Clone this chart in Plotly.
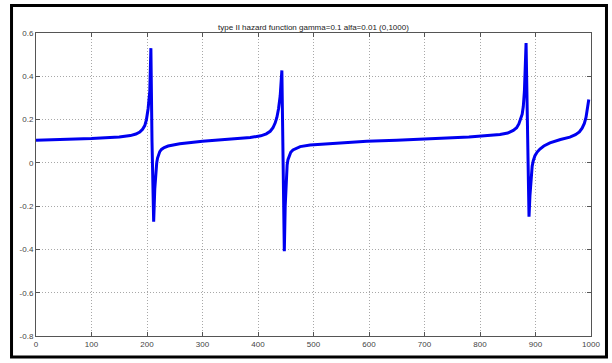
import plotly.graph_objects as go

# data
x_vals = [0, 50, 100, 150, 170, 180, 187, 192, 196, 199, 202, 205, 207, 209, 211, 212, 214, 216, 217.5, 219, 221, 223, 226, 231, 238, 248, 259,
          300, 350, 386, 405, 415, 422, 427, 431, 434, 437, 440, 443, 445, 447.4, 449, 451, 452.5, 454, 456, 459, 463, 468, 476, 494,
          550, 596, 650, 716, 780, 836, 850, 860, 866, 870, 873, 876, 878, 880, 883, 885, 888.3, 890, 892, 894, 896, 899, 903, 908,
          915, 926, 945, 962, 972, 979, 984, 988, 991, 994, 996]
y_vals = [0.105, 0.108, 0.112, 0.119, 0.126, 0.133, 0.142, 0.155, 0.172, 0.2, 0.25, 0.33, 0.53, 0.1, -0.1, -0.272, -0.12, -0.04, 0.0, 0.022, 0.04, 0.052, 0.062, 0.071, 0.078, 0.084, 0.088,
          0.1, 0.11, 0.117, 0.125, 0.134, 0.146, 0.162, 0.185, 0.21, 0.25, 0.31, 0.427, 0.1, -0.408, -0.2, -0.06, -0.01, 0.015, 0.033, 0.049, 0.06, 0.067, 0.075, 0.082,
          0.093, 0.1, 0.105, 0.111, 0.119, 0.131, 0.138, 0.15, 0.162, 0.18, 0.2, 0.225, 0.26, 0.33, 0.554, 0.15, -0.249, -0.15, -0.06, -0.015, 0.01, 0.033, 0.05, 0.064,
          0.078, 0.092, 0.108, 0.119, 0.13, 0.143, 0.16, 0.182, 0.21, 0.25, 0.293]

x_ticks = [0, 100, 200, 300, 400, 500, 600, 700, 800, 900, 1000]
x_tick_labels = ["0", "100", "200", "300", "400", "500", "600", "700", "800", "900", "1000"]
y_ticks = [-0.8, -0.6, -0.4, -0.2, 0, 0.2, 0.4, 0.6]
y_tick_labels = ["-0.8", "-0.6", "-0.4", "-0.2", "0", "0.2", "0.4", "0.6"]

title_text = "type II hazard function gamma=0.1 alfa=0.01 (0,1000)"

fig = go.Figure()
fig.add_trace(go.Scatter(x=x_vals, y=y_vals, mode="lines",
                         line=dict(color="#0000F0", width=3), showlegend=False,
                         hoverinfo="skip"))

axis_common = dict(
    showline=True, linecolor="#555555", linewidth=1, mirror="ticks",
    ticks="inside", ticklen=4, tickcolor="#555555",
    showgrid=True, gridcolor="#a8a8a8", griddash="1px,2px", gridwidth=1,
    zeroline=False,
    tickfont=dict(family="Liberation Sans, Arial, sans-serif", size=8, color="#444444"),
)

fig.update_xaxes(range=[0, 1000], tickvals=x_ticks, ticktext=x_tick_labels, **axis_common)
fig.update_yaxes(range=[-0.8, 0.6], tickvals=y_ticks, ticktext=y_tick_labels, **axis_common)

fig.update_layout(
    width=612, height=363,
    margin=dict(l=36, r=21, t=33, b=27),
    paper_bgcolor="white", plot_bgcolor="white",
    title=dict(text=title_text, x=0.5, xref="paper", y=1.0, yref="paper",
               yanchor="bottom", pad=dict(b=3),
               font=dict(family="Liberation Sans Narrow, Liberation Sans, Arial, sans-serif", size=8, color="#222222")),
)

# outer frame around the figure
fig.add_shape(type="rect", xref="paper", yref="paper",
              x0=-0.0441, x1=1.0279, y0=-0.0693, y1=1.0908,
              line=dict(color="black", width=3), fillcolor="rgba(0,0,0,0)", layer="above")

fig.write_html("out.html", config={"displayModeBar": False},
               post_script="document.body.style.margin='0';document.body.style.padding='0';")
